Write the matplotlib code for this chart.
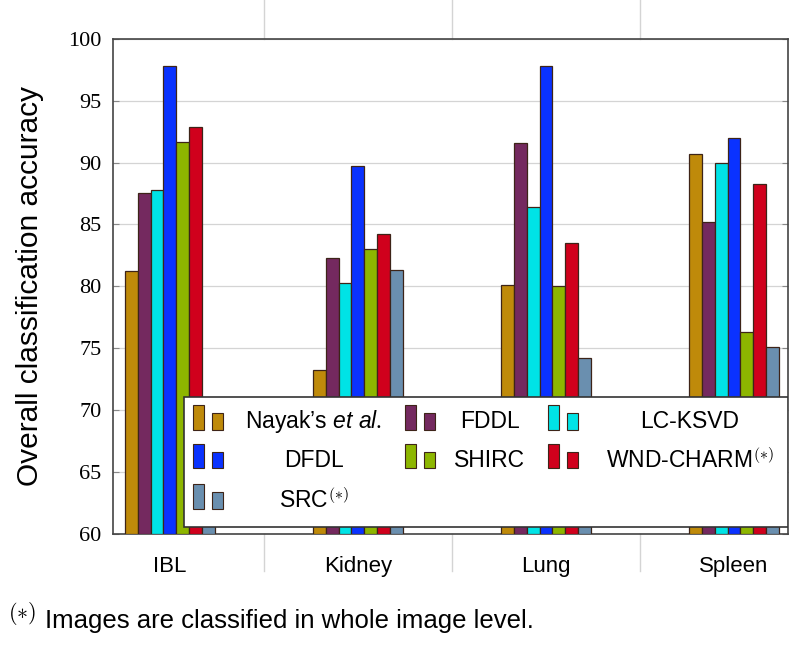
import numpy as np
import matplotlib
matplotlib.use("Agg")
import matplotlib.pyplot as plt
from matplotlib.patches import Rectangle
from matplotlib.transforms import blended_transform_factory

plt.rcParams['font.family'] = ['Liberation Sans', 'DejaVu Sans']
plt.rcParams['mathtext.fontset'] = 'custom'
plt.rcParams['mathtext.rm'] = 'Liberation Serif'
plt.rcParams['mathtext.it'] = 'Liberation Sans:italic'

# data
datasets = ["IBL", "Kidney", "Lung", "Spleen"]
methods = [r"Nayak’s $\mathit{et\ al.}$", "FDDL", "LC-KSVD", "DFDL", "SHIRC",
           r"WND-CHARM$^{(*)}$", r"SRC$^{(*)}$"]
nayak = [81.2, 73.2, 80.1, 90.7]
fddl = [87.5, 82.3, 91.6, 85.2]
lcksvd = [87.8, 80.3, 86.4, 90.0]
dfdl = [97.8, 89.7, 97.8, 92.0]
shirc = [91.7, 83.0, 80.0, 76.3]
wndcharm = [92.9, 84.2, 83.5, 88.3]
src = [67.0, 81.3, 74.2, 75.1]
series = [nayak, fddl, lcksvd, dfdl, shirc, wndcharm, src]
colors = ["#BF8A0A", "#74295F", "#00E3E6", "#0A32FF", "#8DB600", "#D0001C", "#6A8FAF"]
edge = "#3d2418"

fig = plt.figure(figsize=(8, 6.47), dpi=100)
ax = fig.add_axes([0.141, 0.175, 0.844, 0.765])

x = np.arange(len(datasets))
w = 0.068
for i, (vals, c) in enumerate(zip(series, colors)):
    ax.bar(x + (i - 3) * w, np.array(vals) - 60, width=w, bottom=60,
           color=c, edgecolor=edge, linewidth=0.9, zorder=3)

ax.set_ylim(60, 100)
ax.set_xlim(-0.303, 3.287)
ax.set_yticks(np.arange(60, 101, 5))
ax.set_xticks(x)
ax.set_xticklabels(datasets, fontsize=16)
for lab in ax.get_yticklabels():
    lab.set_fontfamily("Liberation Serif")
    lab.set_fontsize(16)
ax.tick_params(axis='x', length=0, pad=16)
ax.tick_params(axis='y', direction='in', length=4, color='#888888', pad=8,
               right=True)
ax.yaxis.grid(True, color='#d4d4d4', linewidth=0.9, zorder=0)
ax.set_axisbelow(True)
for s in ax.spines.values():
    s.set_color('#444444')
    s.set_linewidth(1.2)
ax.set_ylabel("Overall classification accuracy", fontsize=21.5)
ax.yaxis.set_label_coords(-0.102, 0.5)

# group separators outside the axes
tr = blended_transform_factory(ax.transData, ax.transAxes)
for b in x[:-1] + 0.5:
    ax.plot([b, b], [1, 1.09], transform=tr, color='#d4d4d4', lw=1, clip_on=False)
    ax.plot([b, b], [0, -0.075], transform=tr, color='#d4d4d4', lw=1, clip_on=False)

# legend box drawn by hand (three columns, centered labels)
ax.add_patch(Rectangle((0.105, 0.014), 0.895, 0.263, transform=ax.transAxes,
                       facecolor='white', edgecolor='#333333', lw=1.2, zorder=5))
col_sym = [0.1185, 0.4326, 0.6444]
col_txt = [0.298, 0.5585, 0.855]
row_y = [0.236, 0.158, 0.077]
for k, (name, c) in enumerate(zip(methods, colors)):
    r, col = divmod(k, 3)
    x0, yc = col_sym[col], row_y[r]
    ax.add_patch(Rectangle((x0, yc - 0.026), 0.016, 0.05, transform=ax.transAxes,
                           facecolor=c, edgecolor=edge, lw=0.8, zorder=6))
    ax.add_patch(Rectangle((x0 + 0.029, yc - 0.026), 0.016, 0.034, transform=ax.transAxes,
                           facecolor=c, edgecolor=edge, lw=0.8, zorder=6))
    mf = 'custom' if k == 0 else 'cm'
    ax.text(col_txt[col], yc - 0.01, name, transform=ax.transAxes, fontsize=16.5,
            ha='center', va='center', zorder=7, math_fontfamily=mf)

fig.text(0.010, 0.052, r"$(*)$", fontsize=16, ha='left', va='center',
         math_fontfamily='cm')
fig.text(0.056, 0.040, "Images are classified in whole image level.",
         fontsize=18.5, ha='left', va='center')

fig.savefig("out.png", dpi=100, facecolor='white')
